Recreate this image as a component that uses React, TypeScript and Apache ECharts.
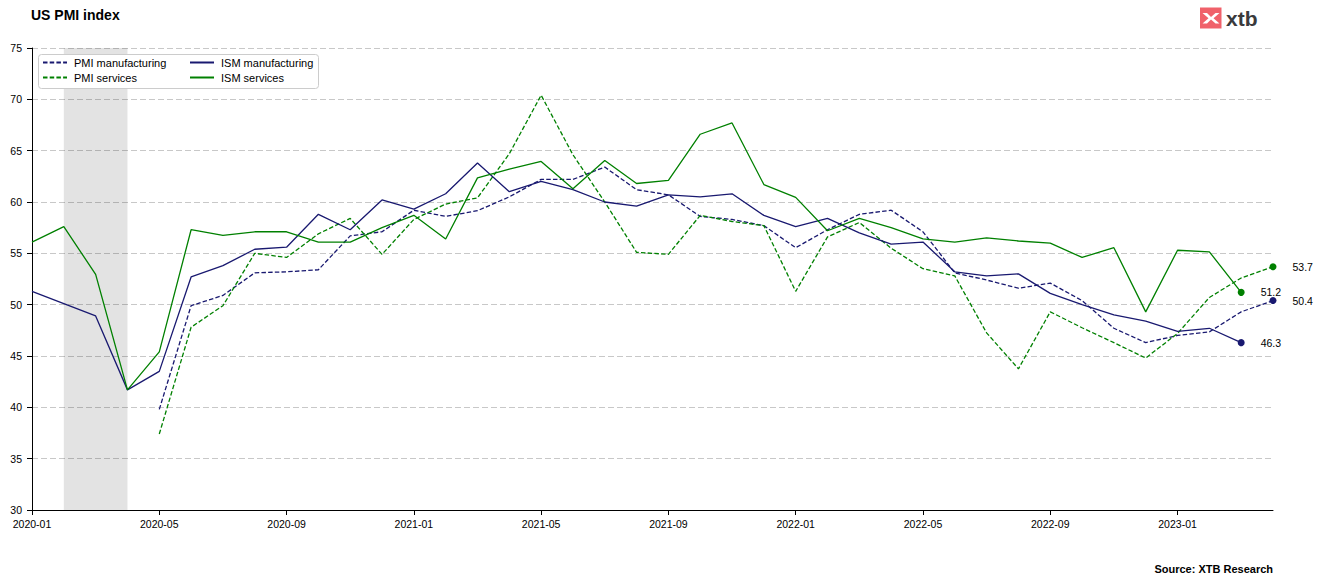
import React, { useEffect, useRef } from "react";
import * as echarts from "echarts";

const categories = [
  "2020-01", "2020-02", "2020-03", "2020-04", "2020-05", "2020-06", "2020-07", "2020-08", "2020-09", "2020-10", "2020-11", "2020-12",
  "2021-01", "2021-02", "2021-03", "2021-04", "2021-05", "2021-06", "2021-07", "2021-08", "2021-09", "2021-10", "2021-11", "2021-12",
  "2022-01", "2022-02", "2022-03", "2022-04", "2022-05", "2022-06", "2022-07", "2022-08", "2022-09", "2022-10", "2022-11", "2022-12",
  "2023-01", "2023-02", "2023-03", "2023-04",
];

const pmiManufacturing = [
  null, null, null, null, 39.8, 49.9, 50.9, 53.1, 53.2, 53.4, 56.7, 57.1,
  59.2, 58.6, 59.15, 60.5, 62.2, 62.2, 63.4, 61.2, 60.7, 58.6, 58.3, 57.7,
  55.55, 57.3, 58.8, 59.2, 57.1, 53.1, 52.4, 51.6, 52.1, 50.4, 47.7, 46.3,
  47.0, 47.35, 49.3, 50.4,
];

const pmiServices = [
  null, null, null, null, 37.4, 47.8, 49.9, 55.0, 54.6, 56.9, 58.4, 54.9,
  58.3, 59.8, 60.4, 64.7, 70.4, 64.6, 60.0, 55.1, 54.9, 58.7, 58.1, 57.7,
  51.3, 56.6, 58.0, 55.5, 53.5, 52.8, 47.25, 43.75, 49.3, 47.75, 46.3, 44.8,
  47.2, 50.7, 52.6, 53.7,
];

const ismManufacturing = [
  51.3, 50.1, 48.9, 41.7, 43.5, 52.7, 53.8, 55.4, 55.6, 58.8, 57.3, 60.2,
  59.3, 60.8, 63.8, 61.0, 62.0, 61.2, 60.0, 59.6, 60.7, 60.5, 60.8, 58.7,
  57.6, 58.4, 57.0, 55.9, 56.1, 53.2, 52.8, 53.0, 51.1, 50.0, 49.0, 48.4,
  47.4, 47.7, 46.3, null,
];

const ismServices = [
  56.1, 57.6, 52.95, 41.7, 45.4, 57.3, 56.75, 57.1, 57.1, 56.1, 56.1, 57.5,
  58.7, 56.4, 62.35, 63.2, 63.95, 61.3, 64.05, 61.8, 62.1, 66.6, 67.7, 61.7,
  60.45, 57.2, 58.4, 57.5, 56.4, 56.1, 56.5, 56.2, 56.0, 54.6, 55.55, 49.3,
  55.3, 55.15, 51.2, null,
];

const shadedRange = ["2020-02", "2020-04"];
const yTicks = { min: 30, max: 75, interval: 5 };

const NAVY = "#191970";
const GREEN = "#008000";
const FONT = "'Liberation Sans', Arial, Helvetica, sans-serif";

function lastPoint(values: (number | null)[], color: string) {
  let idx = values.length - 1;
  while (idx >= 0 && values[idx] == null) idx--;
  return { value: [categories[idx], values[idx]], itemStyle: { color, opacity: 1 } };
}

export default function App() {
  const ref = useRef<HTMLDivElement>(null);

  useEffect(() => {
    if (!ref.current) return;
    const chart = echarts.init(ref.current, undefined, { renderer: "svg" });

    const lineSeries = (name: string, data: (number | null)[], color: string, dashed: boolean, extra: any = {}) => ({
      name,
      type: "line",
      data,
      symbol: "none",
      showSymbol: false,
      connectNulls: false,
      lineStyle: { color, width: 1.3, type: dashed ? [4.5, 2.2] : "solid" },
      itemStyle: { color },
      z: 3,
      ...extra,
    });

    const legendBase = {
      orient: "vertical",
      top: 56,
      padding: 0,
      itemGap: 2,
      itemWidth: 24,
      itemHeight: 8,
      itemStyle: { opacity: 0, borderWidth: 0 },
      textStyle: { fontFamily: FONT, fontSize: 11, color: "#000", lineHeight: 13, padding: [0, 0, 0, 2] },
      z: 10,
    };

    chart.setOption({
      animation: false,
      textStyle: { fontFamily: FONT },
      grid: { left: 32, right: 50, top: 48, bottom: 75, containLabel: false },
      title: {
        text: "US PMI index",
        left: 31,
        top: 8,
        padding: 0,
        textStyle: { fontFamily: FONT, fontSize: 14, fontWeight: "bold", color: "#000" },
      },
      legend: [
        { ...legendBase, left: 42, data: ["PMI manufacturing", "PMI services"] },
        { ...legendBase, left: 189, data: ["ISM manufacturing", "ISM services"] },
      ],
      xAxis: {
        type: "category",
        data: categories,
        boundaryGap: false,
        axisLine: { lineStyle: { color: "#000", width: 1 } },
        axisTick: { show: true, interval: 3, length: 5, lineStyle: { color: "#000" } },
        axisLabel: { interval: 3, margin: 8, fontSize: 10.5, color: "#000", fontFamily: FONT },
        splitLine: { show: false },
      },
      yAxis: {
        type: "value",
        min: yTicks.min,
        max: yTicks.max,
        interval: yTicks.interval,
        axisLine: { show: true, lineStyle: { color: "#000", width: 1 } },
        axisTick: { show: true, length: 5, lineStyle: { color: "#000" } },
        axisLabel: { margin: 10, fontSize: 10.5, color: "#000", fontFamily: FONT },
        splitLine: { show: true, lineStyle: { color: "#c8c8c8", type: [6, 3], width: 1 } },
      },
      series: [
        lineSeries("PMI manufacturing", pmiManufacturing, NAVY, true, {
          markArea: {
            silent: true,
            itemStyle: { color: "rgba(0,0,0,0.11)" },
            data: [[{ xAxis: shadedRange[0] }, { xAxis: shadedRange[1] }]],
          },
        }),
        lineSeries("PMI services", pmiServices, GREEN, true),
        lineSeries("ISM manufacturing", ismManufacturing, NAVY, false),
        lineSeries("ISM services", ismServices, GREEN, false),
        {
          name: "endpoints",
          type: "scatter",
          symbol: "circle",
          symbolSize: 7,
          z: 5,
          itemStyle: { opacity: 1 },
          data: [
            lastPoint(pmiManufacturing, NAVY),
            lastPoint(pmiServices, GREEN),
            lastPoint(ismManufacturing, NAVY),
            lastPoint(ismServices, GREEN),
          ],
          label: {
            show: true,
            position: "right",
            distance: 16,
            fontSize: 10.5,
            fontFamily: FONT,
            color: "#000",
            opacity: 1,
            formatter: (p: any) => Number(p.value[1]).toFixed(1),
          },
        },
      ],
      graphic: [
        {
          type: "rect",
          z: 9,
          shape: { x: 38.5, y: 54.5, width: 280, height: 34, r: 3 },
          style: { fill: "#fff", stroke: "#cccccc", lineWidth: 1 },
        },
        {
          type: "rect",
          shape: { x: 1200, y: 7.5, width: 21.5, height: 21, r: 0 },
          style: { fill: "#f0616a" },
        },
        {
          type: "polygon",
          shape: { points: [[1202.5, 13], [1207, 13], [1211, 17], [1215.5, 13], [1219.5, 13], [1213.5, 18.2], [1219.5, 23.5], [1215.5, 23.5], [1211, 19.5], [1207, 23.5], [1202.5, 23.5], [1208.5, 18.2]] },
          style: { fill: "#ffffff" },
        },
        {
          type: "text",
          x: 1226,
          y: 18,
          style: { text: "xtb", fill: "#3a3a3c", font: `bold 21px ${FONT}`, textVerticalAlign: "middle", verticalAlign: "middle" },
        },
        {
          type: "text",
          right: 50,
          top: 563,
          style: { text: "Source: XTB Research", fill: "#000", font: `bold 11px ${FONT}` },
        },
      ],
    });

    return () => chart.dispose();
  }, []);

  return (
    <div
      ref={ref}
      style={{ position: "fixed", left: 0, top: 0, width: 1323, height: 585, background: "#fff" }}
    />
  );
}
